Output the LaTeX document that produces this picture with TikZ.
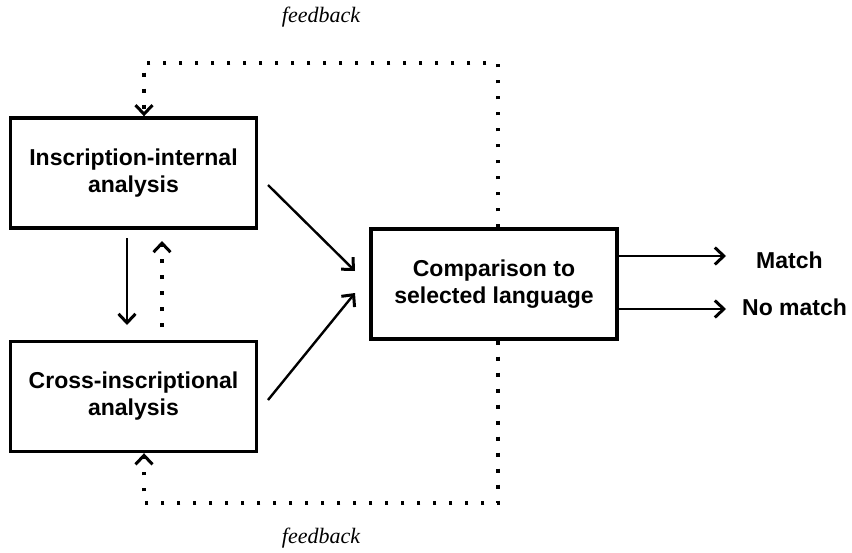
\documentclass[tikz,border=0pt]{standalone}
\usepackage{fontspec}
\setmainfont{Liberation Sans}
\newfontfamily\fbfont{Liberation Serif}
\usetikzlibrary{arrows.meta}
\tikzset{
  box/.style={draw, line width=3.4pt, minimum width=246pt, minimum height=110pt, align=center,
    font=\fontsize{23}{27}\selectfont\bfseries, inner sep=0pt},
  arr/.style={line width=2.4pt, -{Straight Barb[length=9pt,width=17pt,line width=3pt]}},
  dotline/.style={line width=3.8pt, dash pattern=on 3.8pt off 12.2pt, line cap=butt},
  dotarr/.style={dotline, -{Straight Barb[length=9pt,width=17pt,line width=3pt]}},
  fb/.style={font=\fbfont\itshape\fontsize{22}{24}\selectfont},
  lbl/.style={font=\fontsize{23}{25}\selectfont\bfseries, anchor=west, inner sep=0pt}
}
\begin{document}
\begin{tikzpicture}[x=1pt,y=-1pt]
\useasboundingbox (0,0) rectangle (852,552);
\node[box] (A) at (133.5,173) {Inscription-internal\\analysis};
\node[box] (B) at (133.5,396.5) {Cross-inscriptional\\analysis};
\node[box] (C) at (494,284) {Comparison to\\selected language};
\node[fb] (fbtop) at (321,17) {feedback};
\node[fb] (fbbot) at (321,538) {feedback};
\node[lbl] (M) at (756,260) {Match};
\node[lbl] (N) at (742,307) {No match};
% output arrows
\coordinate (m1) at (618,256);
\coordinate (m2) at (726,256);
\coordinate (n1) at (618,309);
\coordinate (n2) at (726,309);
\draw[arr] (m1) -- (m2);
\draw[arr] (n1) -- (n2);
% diagonal arrows
\coordinate (a1) at (268,185);
\coordinate (a2) at (355,271);
\coordinate (b1) at (268,400);
\coordinate (b2) at (355,293);
\draw[arr] (a1) -- (a2);
\draw[arr] (b1) -- (b2);
% vertical arrows
\coordinate (v1) at (127,238);
\coordinate (v2) at (127,325);
\draw[arr] (v1) -- (v2);
\coordinate (w1) at (162,327);
\coordinate (w2) at (162,241);
\draw[dotarr] (w1) -- (w2);
% feedback loops
\coordinate (t1) at (498,63);
\coordinate (t2) at (144,63);
\draw[dotarr] (C.north -| 498,0) -- (t1) -- (t2) -- (A.north -| 144,0);
\coordinate (u1) at (498,503);
\coordinate (u2) at (144,503);
\draw[dotarr] (C.south -| 498,0) -- (u1) -- (u2) -- (B.south -| 144,0);
\end{tikzpicture}
\end{document}
